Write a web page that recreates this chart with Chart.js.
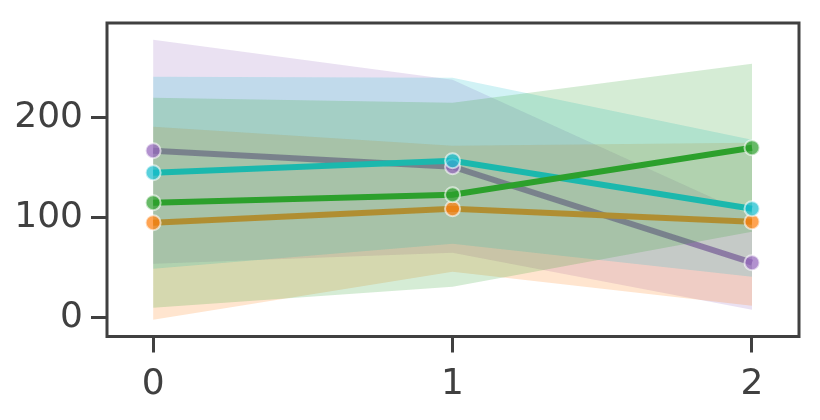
<!DOCTYPE html>
<html>
<head>
<meta charset="utf-8">
<script src="https://cdn.jsdelivr.net/npm/chart.js@4.4.0/dist/chart.umd.min.js"></script>
<style>
  body { margin: 0; background: #fff; }
  canvas { display: block; }
</style>
</head>
<body>
<canvas id="grafico" width="820" height="420"></canvas>
<script>
const xValues = [0, 1, 2]
const xTicks = [0, 1, 2]
const yTicks = [0, 100, 200]

// series drawn in this order: purple, orange, cyan, green
const purpleMean = [167, 151, 55]
const purpleLow = [54, 65, 8]
const purpleHigh = [278, 238, 102]

const orangeMean = [95, 109, 96]
const orangeLow = [-2, 46, 12]
const orangeHigh = [191, 172, 175]

const cyanMean = [145, 157, 109]
const cyanLow = [49, 74, 41]
const cyanHigh = [241, 240, 178]

const greenMean = [115, 123, 170]
const greenLow = [10, 31, 86]
const greenHigh = [220, 215, 254]

const series = [
  { mean: purpleMean, low: purpleLow, high: purpleHigh, rgb: '148,103,189' },
  { mean: orangeMean, low: orangeLow, high: orangeHigh, rgb: '255,127,14' },
  { mean: cyanMean, low: cyanLow, high: cyanHigh, rgb: '23,190,207' },
  { mean: greenMean, low: greenLow, high: greenHigh, rgb: '44,160,44' },
]

function pts(arr) {
  return arr.map((v, i) => ({ x: xValues[i], y: v }))
}

function montaDatasets() {
  var ds = []
  var ordem = 20
  series.forEach((s) => {
    ds.push({
      data: pts(s.mean),
      borderColor: 'rgb(' + s.rgb + ')',
      borderWidth: 6,
      pointRadius: 0,
      fill: false,
      order: ordem--,
    })
    var o = ordem--
    ds.push({
      data: pts(s.high),
      borderWidth: 0,
      pointRadius: 0,
      backgroundColor: 'rgba(' + s.rgb + ',0.2)',
      fill: '+1',
      order: o,
    })
    ds.push({
      data: pts(s.low),
      borderWidth: 0,
      pointRadius: 0,
      fill: false,
      order: o,
    })
  })
  // markers on top, green top-most
  series.forEach((s, i) => {
    ds.push({
      data: pts(s.mean),
      showLine: false,
      pointRadius: 7.5,
      pointHoverRadius: 7.5,
      pointBorderWidth: 2,
      pointBackgroundColor: 'rgba(' + s.rgb + ',0.72)',
      pointBorderColor: 'rgba(255,255,255,0.6)',
      order: 4 - i,
    })
  })
  return ds
}

const moldura = {
  id: 'moldura',
  afterDraw(chart) {
    var a = chart.chartArea
    var ctx = chart.ctx
    ctx.save()
    ctx.strokeStyle = '#404040'
    ctx.lineWidth = 3
    ctx.strokeRect(a.left, a.top, a.right - a.left, a.bottom - a.top)
    ctx.restore()
  }
}

function semPadding(scale) {
  scale.paddingTop = 0
  scale.paddingBottom = 0
  scale.paddingLeft = 0
  scale.paddingRight = 0
}

function geraGrafico() {
  var ctx = document.getElementById('grafico').getContext('2d')
  window.grafico = new Chart(ctx, {
    type: 'line',
    data: { datasets: montaDatasets() },
    options: {
      responsive: false,
      animation: false,
      devicePixelRatio: 1,
      layout: { padding: { top: 23, right: 21, left: 0, bottom: 0 } },
      plugins: {
        legend: { display: false },
        tooltip: { enabled: false },
        filler: { drawTime: 'beforeDatasetDraw' },
      },
      scales: {
        x: {
          type: 'linear',
          min: -0.154,
          max: 2.157,
          afterBuildTicks: (scale) => { scale.ticks = xTicks.map((v) => ({ value: v })) },
          afterFit: (scale) => { scale.height = 83.5; semPadding(scale) },
          grid: { drawOnChartArea: false, tickLength: 16, tickWidth: 3, tickColor: '#404040' },
          border: { display: false },
          ticks: { font: { family: 'DejaVu Sans', size: 36 }, color: '#404040', padding: 11, maxRotation: 0 },
        },
        y: {
          min: -18.8,
          max: 294.7,
          afterBuildTicks: (scale) => { scale.ticks = yTicks.map((v) => ({ value: v })) },
          afterFit: (scale) => { scale.width = 107; semPadding(scale) },
          grid: { drawOnChartArea: false, tickLength: 16, tickWidth: 3, tickColor: '#404040' },
          border: { display: false },
          ticks: { font: { family: 'DejaVu Sans', size: 36 }, color: '#404040', padding: 8 },
        },
      },
    },
    plugins: [moldura],
  })
}

geraGrafico()
</script>
</body>
</html>
